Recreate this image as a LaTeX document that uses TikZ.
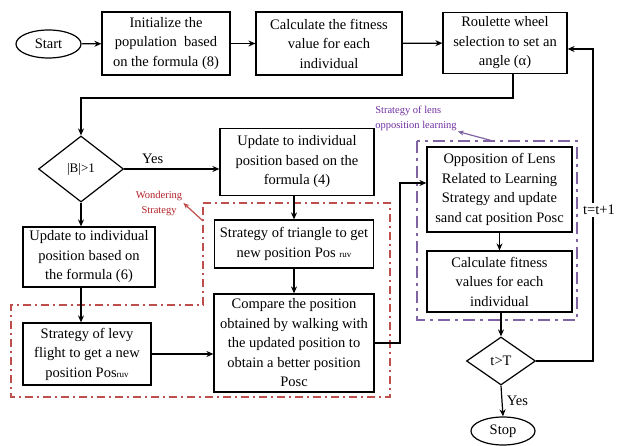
\documentclass[tikz,border=0pt]{standalone}
\usepackage{fontspec}
\setmainfont{Liberation Serif}
\usetikzlibrary{arrows.meta,shapes.geometric,calc}
\definecolor{WanderClr}{rgb}{0.75,0.31,0.30}
\definecolor{WanderTxt}{rgb}{0.70,0.13,0.15}
\definecolor{LensClr}{rgb}{0.50,0.39,0.64}
\definecolor{LensTxt}{rgb}{0.44,0.19,0.63}

\begin{document}
\begin{tikzpicture}[x=1pt,y=-1pt,
  every node/.style={font=\fontsize{14.5}{19.5}\selectfont},
  proc/.style={draw,line width=1.2pt,align=center,inner sep=0pt},
  term/.style={draw,ellipse,line width=1.2pt,inner sep=0pt,minimum width=65pt,minimum height=28pt},
  decide/.style={draw,diamond,line width=1.2pt,inner sep=0pt},
  arr/.style={line width=1.2pt,-{Stealth[length=7pt,width=6pt]}},
  wander/.style={WanderClr,line width=1.3pt,dash pattern=on 8pt off 4pt on 2pt off 4pt},
  lens/.style={LensClr,line width=2pt,dash pattern=on 12pt off 5pt on 3pt off 5pt},
  note/.style={font=\fontsize{10.5}{15}\selectfont,inner sep=1pt}]
\useasboundingbox (0,0) rectangle (625,446);

\draw[wander] (203,203) -- (390,203) -- (390,397) -- (11,397) -- (11,305) -- (203,305) -- cycle;
\draw[lens] (417,141) rectangle (577,320);

\node[term] (start) at (48.5,44) {Start};
\node[proc,minimum width=128pt,minimum height=63pt] (init) at (166,43.5) {Initialize the\\population\ \ based\\on the formula (8)};
\node[proc,minimum width=146pt,minimum height=63pt] (calc) at (329,43.5) {Calculate the fitness\\value for each\\individual};
\node[proc,minimum width=124pt,minimum height=61pt] (roul) at (505,43) {Roulette wheel\\selection to set an\\angle (α)};

\node[decide,minimum width=85pt,minimum height=66pt,font=\fontsize{13}{15}\selectfont] (dB) at (81,169) {|B|>1};
\node[proc,minimum width=154pt,minimum height=67pt] (upd4) at (297,162) {Update to individual\\position based on the\\formula (4)};
\node[proc,minimum width=132pt,minimum height=60pt] (upd6) at (89,257) {Update to individual\\position based on\\the formula (6)};
\node[proc,minimum width=159pt,minimum height=48pt] (tri) at (294,244) {Strategy of triangle to get\\new position Pos {\fontsize{9}{10}\selectfont ruv}};
\node[proc,minimum width=128pt,minimum height=62pt] (levy) at (87,354) {Strategy of levy\\flight to get a new\\position Pos{\fontsize{9}{10}\selectfont ruv}};
\node[proc,minimum width=160pt,minimum height=98pt] (comp) at (294,343) {Compare the position\\obtained by walking with\\the updated position to\\obtain a better position\\Posc};

\node[proc,minimum width=145pt,minimum height=85pt] (opp) at (499.5,189.5) {Opposition of Lens\\Related to Learning\\Strategy and update\\sand cat position Posc};
\node[proc,minimum width=145pt,minimum height=61pt] (fit) at (499.5,281.5) {Calculate fitness\\values for each\\individual};
\node[decide,minimum width=69pt,minimum height=48pt] (dT) at (501,361) {t>T};
\node[term,minimum width=64pt] (stop) at (503,431) {Stop};

\node[note,WanderTxt,align=center] (wlab) at (159,203) {Wondering\\Strategy};
\node[note,LensTxt,align=left] (llab) at (416,118) {Strategy of lens\\opposition learning};
\coordinate (wfoot) at (203,221);
\coordinate (lfoot) at (493,141);
\coordinate (turn) at (81,98);
\coordinate (bend) at (400,183);
\coordinate (loop) at (593,49);

\draw[arr] (start) -- (init);
\draw[arr] (init) -- (calc);
\draw[arr] (calc) -- (roul);
\draw[arr] ([xshift=8pt]roul.south) |- (turn) -- (dB.north);
\draw[arr] (dB.east) -- (dB.east -| upd4.west) node[pos=0.3,above=1pt] {Yes};
\draw[arr] (dB.south) -- (dB.south |- upd6.north);
\draw[arr] (upd6.south -| dB.south) -- (levy.north -| dB.south);
\draw[arr] (levy.east) -- (levy.east -| comp.west);
\draw[arr] (upd4.south -| tri.north) -- (tri.north);
\draw[arr] (tri.south) -- (comp.north);
\draw[arr] (comp.east) -| (bend) -- (bend -| opp.west);
\draw[arr] (opp.south) -- (fit.north);
\draw[arr] (fit.south -| dT.north) -- (dT.north);
\draw[arr] (dT.south) -- (stop.north) node[midway,right=1pt] {Yes};
\draw[arr] (dT.east) -| (loop) -- (loop -| roul.east);
\node[fill=white,inner sep=2pt] (tlab) at (599,210) {t=t+1};

\draw[WanderClr,line width=1.2pt,-{Stealth[length=6pt,width=5pt]}] (wfoot) -- (wlab.east);
\draw[LensClr,line width=1.2pt,-{Stealth[length=6pt,width=5pt]}] (lfoot) -- (llab.south east);
\end{tikzpicture}
\end{document}
